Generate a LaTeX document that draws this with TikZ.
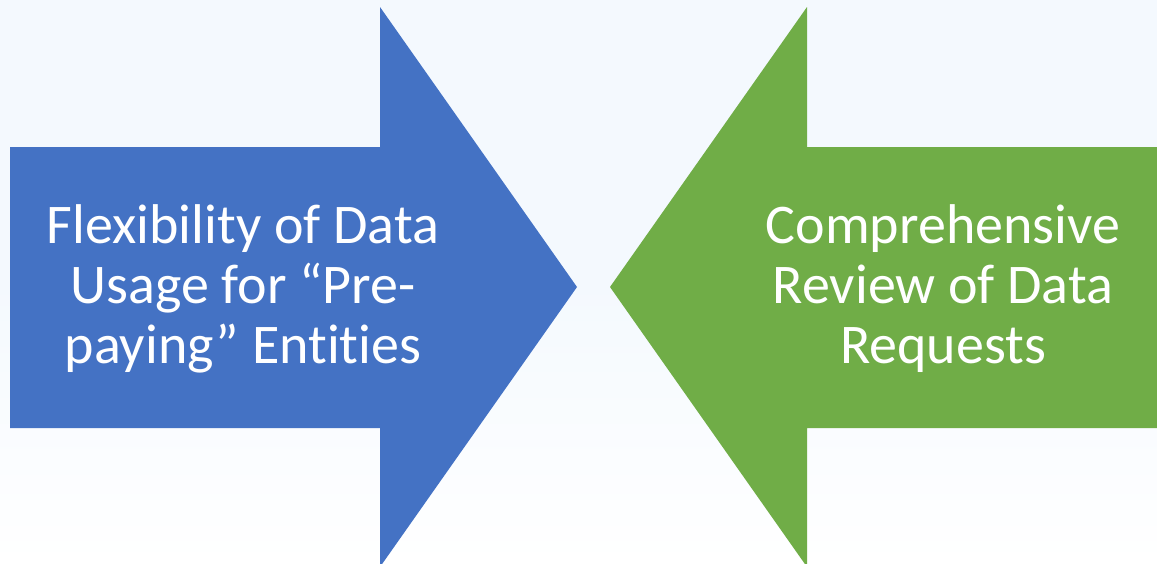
\documentclass[tikz,border=0pt]{standalone}
\usepackage{fontspec}
\setmainfont{Carlito}[Ligatures={NoCommon}]
\definecolor{arrowblue}{HTML}{4472C4}
\definecolor{arrowgreen}{HTML}{70AD47}
\definecolor{paleback}{HTML}{F4F9FE}
\tikzset{
  bigarrow/.style={draw=none},
  arrowtext/.style={text=white, align=center, font=\fontsize{42}{45}\selectfont, inner sep=0pt}
}
\begin{document}
\begin{tikzpicture}[x=0.75pt, y=-0.75pt]
    \path[top color=paleback, bottom color=white, middle color=paleback] (0, 0) rectangle (1157, 564);
    \useasboundingbox (0, 0) rectangle (1157, 564);

    \fill[arrowblue, bigarrow] (10, 147) -- (380, 147) -- (380, 7) -- (577, 287) -- (380, 567) -- (380, 428) -- (10, 428) -- cycle;
    \fill[arrowgreen, bigarrow] (1157, 147) -- (807, 147) -- (807, 7) -- (610, 287) -- (807, 567) -- (807, 428) -- (1157, 428) -- cycle;

    \node[arrowtext] (flexibility) at (243, 289) {Flexibility of Data\\Usage for “Pre-\\paying” Entities};
    \node[arrowtext] (review) at (943, 289) {Comprehensive\\Review of Data\\Requests};
\end{tikzpicture}
\end{document}
